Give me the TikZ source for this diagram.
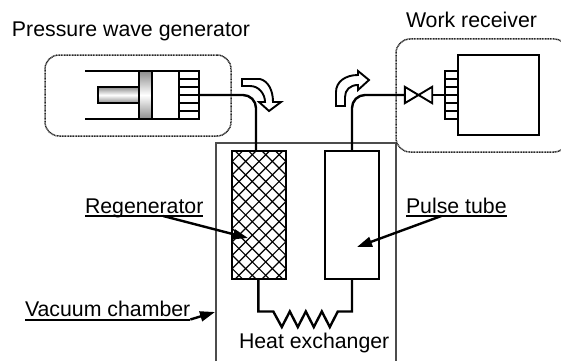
\documentclass[tikz,border=0pt]{standalone}
\usepackage{fontspec}
\setmainfont{Liberation Sans}
\usetikzlibrary{arrows.meta, calc}

\begin{document}
\begin{tikzpicture}[
    x=1pt, y=-1pt,
    part/.style={draw, line width=1.9pt, inner sep=0pt, outer sep=0pt, minimum width=#1},
    part/.default=54pt,
    ladder/.style={part=#1, minimum height=48pt},
    shaded part/.style={draw, line width=1.9pt, inner sep=0pt, outer sep=0pt, top color=black!45, bottom color=black!45, middle color=white},
    housing/.style={draw, line width=1.5pt, dash pattern=on 1pt off 0.6pt, black!85, rounded corners=14pt, inner sep=0pt},
    pipe/.style={line width=2.4pt, rounded corners=13pt},
    caption/.style={inner sep=0pt, outer sep=0pt, anchor=base west, font=\fontsize{21.3}{25}\selectfont},
    tag/.style={caption, text depth=3pt},
    tagline/.style={line width=2pt},
    pointer/.style={line width=2.4pt, -{Triangle[length=15pt, width=10pt]}},
    flow/.style={line width=1.9pt, fill=white, line join=miter}
]
    \useasboundingbox (0,0) rectangle (561,361);

    % Chamber
    \draw[line width=1.5pt, black!70] (216,361) |- (396,143) -- (396,361);

    % Generator
    \node[housing, minimum width=186pt, minimum height=81pt] (genbox) at (138,95.5) {};
    \node[ladder=20pt] (genhx) at (189,95) {};
    \foreach \y in {-16,-8,0,8,16} {
        \draw[line width=1.9pt] ([yshift=\y pt]genhx.west) -- ([yshift=\y pt]genhx.east);
    }
    \node[shaded part, minimum width=41pt, minimum height=16pt] (rod) at (118.5,95) {};
    \node[shaded part, minimum width=13pt, minimum height=48pt] (piston) at (145.5,95) {};
    \coordinate (cyltop) at (85,71);
    \coordinate (cylbot) at (85,119);
    \draw[line width=1.9pt] (cyltop) -- (genhx.north east);
    \draw[line width=1.9pt] (cylbot) -- (genhx.south east);

    % Regenerator and pulse tube
    \node[part, minimum height=128pt, path picture={
        \foreach \i in {-9,...,9} {
            \draw[line width=1.2pt] ($(path picture bounding box.center)+(\i*13.4-100,-100)$) -- ++(200,200);
            \draw[line width=1.2pt] ($(path picture bounding box.center)+(\i*13.4-100,100)$) -- ++(200,-200);
        }
    }] (regen) at (259,215) {};
    \node[part, minimum height=128pt] (pulse) at (352,215) {};

    % Receiver
    \begin{scope}
        \clip (380,30) rectangle (561,160);
        \node[housing, minimum width=172pt, minimum height=113pt] (workbox) at (482,95.5) {};
    \end{scope}
    \node[part=81pt, minimum height=80pt] (workvol) at (498.5,95) {};
    \node[ladder=13pt] (workhx) at (451.5,95) {};
    \foreach \y in {-16,-8,0,8,16} {
        \draw[line width=1.9pt] ([yshift=\y pt]workhx.west) -- ([yshift=\y pt]workhx.east);
    }
    \node[inner sep=0pt, minimum width=27pt, minimum height=16pt] (valve) at (418.5,95) {};
    \draw[line width=1.9pt] (valve.north west) -- (valve.south east) -- (valve.north east) -- (valve.south west) -- cycle;

    % Pipes
    \draw[pipe] (genhx.east) -| ([xshift=-3pt]regen.north);
    \draw[pipe] (pulse.north) |- (valve.west);
    \draw[pipe] (valve.east) -- (workhx.west);
    \draw[line width=2.4pt, line join=miter] ([xshift=-0.7pt]regen.south) -- ++(0,32.5) -- ++(15,0)
        -- ++(8.5,15.5) -- ++(8,-15.5) -- ++(8,15.5) -- ++(8,-15.5) -- ++(8,15.5) -- ++(8,-15.5) -- ++(8,15.5) -- ++(8,-15.5)
        -| (pulse.south);

    % Flow arrows
    \draw[flow] (242,79) -- (260,79) .. controls (268,81) and (273,90) .. (273,102) -- (281,102) -- (269,111) -- (259,102) -- (265,102)
        .. controls (265,94) and (259,86) .. (250,86) -- (242,86) -- cycle;
    \draw[flow] (336,106) -- (336,92) .. controls (336,82) and (345,75) .. (358,75) -- (358,71) -- (369,80) -- (358,90) -- (358,85)
        .. controls (350,85) and (345,90) .. (345,97) -- (345,106) -- cycle;

    % Labels
    \node[caption] (gentext) at (12,37) {Pressure wave generator};
    \node[caption] (worktext) at (406,28) {Work receiver};
    \node[caption] (hxtext) at (239,348) {Heat exchanger};
    \node[tag] (regentext) at (85,213) {Regenerator};
    \node[tag] (pulsetext) at (406,213) {Pulse tube};
    \node[tag] (vactext) at (25,316.5) {Vacuum chamber};
    \draw[tagline] (regentext.south west) -- (regentext.south east);
    \draw[tagline] (pulsetext.south west) -- (pulsetext.south east);
    \draw[tagline] (vactext.south west) -- (vactext.south east);

    % Pointers
    \coordinate (regentip) at (248,238);
    \coordinate (pulsetip) at (357,247);
    \coordinate (vactip) at (215,312);
    \draw[pointer] ([xshift=19pt]regentext.south) -- (regentip);
    \draw[pointer] ([xshift=-15pt]pulsetext.south) -- (pulsetip);
    \draw[pointer] (vactext.south east) -- (vactip);
\end{tikzpicture}
\end{document}
